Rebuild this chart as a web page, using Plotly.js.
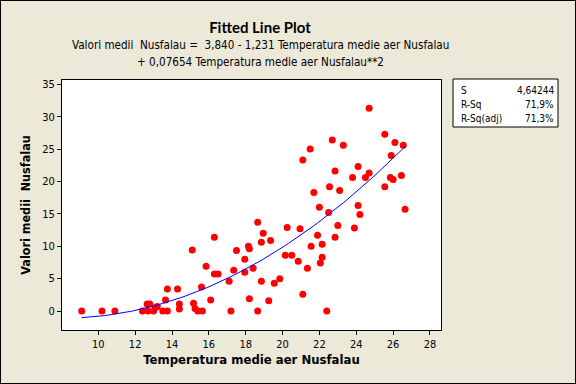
<!DOCTYPE html>
<html>
<head>
<meta charset="utf-8">
<script src="https://cdn.plot.ly/plotly-3.0.1.min.js"></script>
<style>
  html, body { margin: 0; padding: 0; background: #ECE9D8; }
  #wrap { position: relative; width: 576px; height: 384px; }
  #chart { width: 576px; height: 384px; }
  #frame { position: absolute; left: 0; top: 0; width: 574px; height: 382px; border: 1px solid #000; pointer-events: none; }
</style>
</head>
<body>
<div id="wrap"><div id="chart"></div><div id="frame"></div></div>
<script>
// Observed data: Temperatura medie aer Nusfalau (x) vs Valori medii Nusfalau (y)
const temperatura = [
  9.1, 10.2, 10.9, 12.4, 12.65, 12.8, 12.7, 13.0, 13.1, 13.2,
  13.5, 13.75, 13.65, 13.75, 14.3, 14.4, 14.4, 15.1, 15.17, 15.25,
  15.4, 15.65, 15.6, 16.1, 15.85, 16.3, 16.5, 17.1, 17.2,
  16.3, 17.35, 17.5, 17.95, 17.95, 18.15, 18.2, 18.2, 18.4, 18.65,
  18.65, 18.85, 18.95, 18.85, 19.35, 19.25, 19.55, 19.85, 20.15, 20.25,
  20.5, 20.85, 20.95, 21.1, 21.35, 21.55, 21.7, 21.9, 22.0, 22.15,
  22.15, 22.05, 22.4, 22.5, 22.55, 24.7, 25.55, 26.1, 26.55, 25.9,
  22.7, 23.3, 21.5, 21.1, 24.1, 22.85, 23.8, 24.5, 24.7, 25.85,
  26.0, 26.45, 25.55, 23.1, 24.1, 24.2, 26.65, 23.0, 23.9, 22.85
];
const valori = [
  0, 0, 0, 0, 1.1, 1.1, 0, 0, 0.5, 0.7,
  0, 0, 1.7, 3.4, 3.4, 1.1, 0.3, 9.4, 1.2, 0.4,
  0, 0, 3.7, 1.7, 6.9, 5.7, 5.7, 4.6, 0,
  11.4, 6.3, 9.35, 8.0, 6.0, 10.0, 9.6, 1.9, 6.6, 13.7,
  0, 10.6, 12.0, 4.6, 10.9, 1.6, 4.3, 5.0, 8.6, 12.9,
  8.6, 7.7, 12.7, 2.6, 6.6, 10.0, 18.3, 11.7, 16.0, 10.3,
  8.3, 7.4, 0, 15.2, 19.2, 31.3, 27.3, 26.0, 25.6, 24.0,
  26.4, 25.6, 25.0, 23.3, 22.3, 21.6, 20.6, 20.6, 21.3, 20.6,
  20.3, 20.9, 19.2, 18.6, 16.3, 14.9, 15.7, 13.2, 12.8, 11.4
];
// Regression coefficients shown in the chart subtitle
const fitCoef = [3.840, -1.231, 0.07654];
const xTicks = [10, 12, 14, 16, 18, 20, 22, 24, 26, 28];
const yTicks = [0, 5, 10, 15, 20, 25, 30, 35];
const statLabels = ['S', 'R-Sq', 'R-Sq(adj)'];
const statValues = ['4,64244', '71,9%', '71,3%'];

const xmin = Math.min(...temperatura), xmax = Math.max(...temperatura);
const fitX = [], fitY = [];
for (let i = 0; i <= 100; i++) {
  const x = xmin + (xmax - xmin) * i / 100;
  fitX.push(x);
  fitY.push(fitCoef[0] + fitCoef[1] * x + fitCoef[2] * x * x);
}

const baseFont = 'DejaVu Sans Condensed, DejaVu Sans, Liberation Sans, sans-serif';
const W = 576, H = 384, L = 62, R = 441, T = 80, B = 330;
const px = v => (v - L) / (R - L);
const py = v => (B - v) / (B - T);

const annotations = [
  {text: 'Valori medii\u00A0\u00A0Nusfalau =\u00A0\u00A03,840 - 1,231 Temperatura medie aer Nusfalau',
   xref: 'paper', yref: 'paper', x: px(260), y: py(45), xanchor: 'center', yanchor: 'middle',
   showarrow: false, font: {family: baseFont, size: 11.6, color: '#000'}},
  {text: '+ 0,07654 Temperatura medie aer Nusfalau**2',
   xref: 'paper', yref: 'paper', x: px(260), y: py(62), xanchor: 'center', yanchor: 'middle',
   showarrow: false, font: {family: baseFont, size: 11.6, color: '#000'}}
];
const rowY = [90, 104, 118];
statLabels.forEach((lab, i) => {
  annotations.push({text: lab, xref: 'paper', yref: 'paper', x: px(459), y: py(rowY[i]),
    xanchor: 'left', yanchor: 'middle', showarrow: false,
    font: {family: baseFont, size: 10, color: '#000'}});
  annotations.push({text: statValues[i], xref: 'paper', yref: 'paper', x: px(556), y: py(rowY[i]),
    xanchor: 'right', yanchor: 'middle', showarrow: false,
    font: {family: baseFont, size: 10, color: '#000'}});
});

const data = [
  {x: temperatura, y: valori, type: 'scatter', mode: 'markers',
   marker: {color: '#FF0000', size: 7, line: {width: 0}}, hoverinfo: 'x+y'},
  {x: fitX, y: fitY, type: 'scatter', mode: 'lines',
   line: {color: '#0000FF', width: 1}, hoverinfo: 'skip'}
];

const layout = {
  width: W, height: H,
  margin: {l: L, r: W - R, t: T, b: H - B, pad: 0},
  paper_bgcolor: '#ECE9D8', plot_bgcolor: '#FFFFFF',
  showlegend: false,
  title: {text: '<b>Fitted Line Plot</b>', xref: 'paper', x: px(260), xanchor: 'center',
    yref: 'container', y: 1 - 28 / H, yanchor: 'middle',
    font: {family: 'Lato, sans-serif', size: 15, color: '#000'}},
  xaxis: {range: [8.03, 28.6], tickvals: xTicks, ticktext: xTicks.map(String),
    ticks: 'outside', ticklen: 4, tickcolor: '#000', tickwidth: 1,
    showline: true, linecolor: '#000', linewidth: 1, mirror: true,
    showgrid: false, zeroline: false,
    tickfont: {family: baseFont, size: 11, color: '#000'},
    title: {text: '<b>Temperatura medie aer Nusfalau</b>', standoff: 4,
      font: {family: baseFont, size: 13, color: '#000'}}},
  yaxis: {range: [-2.93, 35.66], tickvals: yTicks, ticktext: yTicks.map(String),
    ticks: 'outside', ticklen: 4, tickcolor: '#000', tickwidth: 1,
    showline: true, linecolor: '#000', linewidth: 1, mirror: true,
    showgrid: false, zeroline: false,
    tickfont: {family: baseFont, size: 11, color: '#000'},
    title: {text: '<b>Valori medii\u00A0\u00A0Nusfalau</b>', standoff: 8,
      font: {family: baseFont, size: 12.5, color: '#000'}}},
  shapes: [
    {type: 'rect', xref: 'paper', yref: 'paper', x0: px(453), x1: px(558), y0: py(127), y1: py(79),
     line: {color: '#000', width: 1}, fillcolor: '#FFFFFF', layer: 'below'}
  ],
  annotations: annotations
};

Plotly.newPlot('chart', data, layout, {displayModeBar: false, staticPlot: true});
</script>
</body>
</html>
